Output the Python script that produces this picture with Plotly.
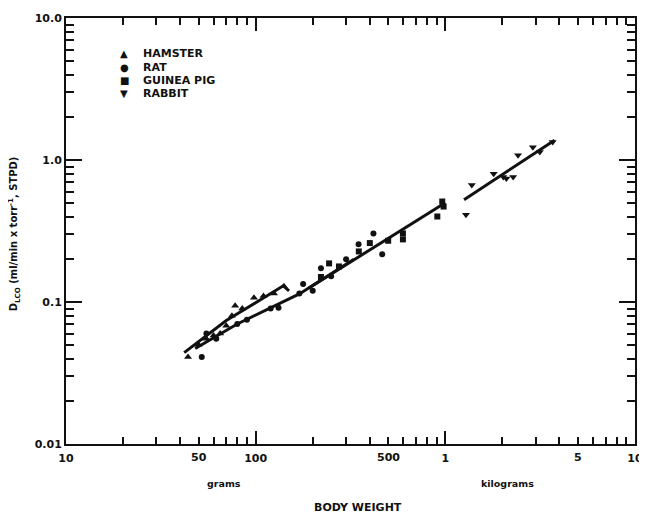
import math
import plotly.graph_objects as go

# ---- data (body weight in grams, DLCO in ml/min x torr^-1) ----
hamster_w = [44, 50, 55, 60, 65, 70, 75, 78, 85, 98, 110, 125, 141]
hamster_d = [0.041, 0.050, 0.055, 0.058, 0.060, 0.068, 0.080, 0.094, 0.090, 0.107, 0.110, 0.115, 0.129]

rat_w = [52, 55, 62, 80, 90, 120, 132, 170, 178, 200, 221, 250, 300, 349, 418, 465]
rat_d = [0.041, 0.060, 0.055, 0.070, 0.075, 0.090, 0.091, 0.115, 0.134, 0.120, 0.173, 0.152, 0.200, 0.255, 0.304, 0.217]

gpig_w = [221, 244, 275, 350, 400, 500, 598, 598, 908, 964, 980]
gpig_d = [0.150, 0.187, 0.178, 0.227, 0.260, 0.270, 0.304, 0.276, 0.400, 0.510, 0.470]

rabbit_w = [1286, 1380, 1800, 2023, 2100, 2280, 2420, 2897, 3152, 3684]
rabbit_d = [0.412, 0.668, 0.800, 0.760, 0.740, 0.760, 1.080, 1.230, 1.140, 1.340]

# regression lines
hamster_fit_w = [42, 70, 140, 150]
hamster_fit_d = [0.044, 0.074, 0.130, 0.120]
rat_fit_w = [48, 80, 170, 330]
rat_fit_d = [0.047, 0.070, 0.114, 0.200]
gpig_fit_w = [190, 1000]
gpig_fit_d = [0.125, 0.500]
rabbit_fit_w = [1256, 3770]
rabbit_fit_d = [0.525, 1.380]

# tick labels
x_major_vals = [10, 100, 1000, 10000]
x_major_text = ["10", "100", "1", "10"]
x_minor_vals = [m * d for d in (10, 100, 1000) for m in range(2, 10)]
x_extra_label_vals = [50, 500, 5000]
x_extra_label_text = ["50", "500", "5"]
y_major_vals = [0.01, 0.1, 1, 10]
y_major_text = ["0.01", "0.1", "1.0", "10.0"]
y_minor_vals = [m * d for d in (0.01, 0.1, 1) for m in range(2, 10)]

legend_names = ["HAMSTER", "RAT", "GUINEA PIG", "RABBIT"]
legend_glyphs = ["\u25B2", "\u25CF", "\u25A0", "\u25BC"]

FONT = "DejaVu Sans"
BLACK = "#111111"

fig = go.Figure()

for fw, fd in [(hamster_fit_w, hamster_fit_d), (rat_fit_w, rat_fit_d),
               (gpig_fit_w, gpig_fit_d), (rabbit_fit_w, rabbit_fit_d)]:
    fig.add_trace(go.Scatter(x=fw, y=fd, mode="lines",
                             line=dict(color=BLACK, width=3), showlegend=False,
                             hoverinfo="skip"))

for w, d, sym, sz in [(hamster_w, hamster_d, "triangle-up", 7),
                      (rat_w, rat_d, "circle", 6),
                      (gpig_w, gpig_d, "square", 6),
                      (rabbit_w, rabbit_d, "triangle-down", 7)]:
    fig.add_trace(go.Scatter(x=w, y=d, mode="markers",
                             marker=dict(symbol=sym, size=sz, color=BLACK),
                             showlegend=False))

tickfont = dict(family=FONT, size=11, color=BLACK, weight="bold")

# the page has an 8px body margin, so the figure is 8px smaller
fig.update_layout(
    width=639, height=509,
    margin=dict(l=58, r=4, t=7, b=73),
    paper_bgcolor="white", plot_bgcolor="white",
    showlegend=False,
    xaxis=dict(type="log", range=[1, 4.0005], tickmode="array",
               tickvals=x_major_vals, ticktext=x_major_text,
               ticks="inside", ticklen=13, tickwidth=1.5, tickcolor=BLACK,
               minor=dict(tickmode="array", tickvals=x_minor_vals, ticks="inside",
                          ticklen=7, tickwidth=1.5, tickcolor=BLACK, showgrid=False),
               showline=True, linecolor=BLACK, linewidth=2, mirror="ticks",
               showgrid=False, zeroline=False, tickfont=tickfont,
               ticklabelstandoff=3, ticklabeloverflow="allow"),
    yaxis=dict(type="log", range=[-2, 1], tickmode="array",
               tickvals=y_major_vals, ticktext=y_major_text,
               ticks="inside", ticklen=16, tickwidth=1.5, tickcolor=BLACK,
               minor=dict(tickmode="array", tickvals=y_minor_vals, ticks="inside",
                          ticklen=8, tickwidth=1.5, tickcolor=BLACK, showgrid=False),
               showline=True, linecolor=BLACK, linewidth=2, mirror="ticks",
               showgrid=False, zeroline=False, tickfont=tickfont),
)

PW, PH, L, T = 577.0, 429.0, 66.0, 15.0


def px(x):
    return (x - L) / PW


def py(y):
    return (T + PH - y) / PH


annots = []
for v, t in zip(x_extra_label_vals, x_extra_label_text):
    annots.append(dict(text=t, x=math.log10(v), xref="x", y=py(458), yref="paper",
                       showarrow=False, xanchor="center", yanchor="middle",
                       font=tickfont))
annots.append(dict(text="grams", x=px(226), y=py(484), xref="paper", yref="paper",
                   showarrow=False, xanchor="center", yanchor="middle",
                   font=dict(family=FONT, size=9.5, color=BLACK, weight="bold")))
annots.append(dict(text="kilograms", x=px(514), y=py(484), xref="paper", yref="paper",
                   showarrow=False, xanchor="center", yanchor="middle",
                   font=dict(family=FONT, size=9.5, color=BLACK, weight="bold")))
annots.append(dict(text="BODY WEIGHT", x=px(362), y=py(508), xref="paper", yref="paper",
                   showarrow=False, xanchor="center", yanchor="middle",
                   font=dict(family=FONT, size=11, color=BLACK, weight="bold")))
annots.append(dict(text="D<sub>LCO</sub> (ml/min x torr<sup>-1</sup>, STPD)",
                   x=px(14), y=py(232), xref="paper", yref="paper", textangle=-90,
                   showarrow=False, xanchor="center", yanchor="middle",
                   font=dict(family=FONT, size=10, color=BLACK, weight="bold")))

for i, (g, n) in enumerate(zip(legend_glyphs, legend_names)):
    yy = 51 + i * 13.5
    annots.append(dict(text=g, x=px(125), y=py(yy), xref="paper", yref="paper",
                       showarrow=False, xanchor="center", yanchor="middle",
                       font=dict(family=FONT, size=10, color=BLACK)))
    annots.append(dict(text=n, x=px(142), y=py(yy), xref="paper", yref="paper",
                       showarrow=False, xanchor="left", yanchor="middle",
                       font=dict(family=FONT, size=11, color=BLACK, weight="bold")))

fig.update_layout(annotations=annots)

fig.write_html("out.html")
